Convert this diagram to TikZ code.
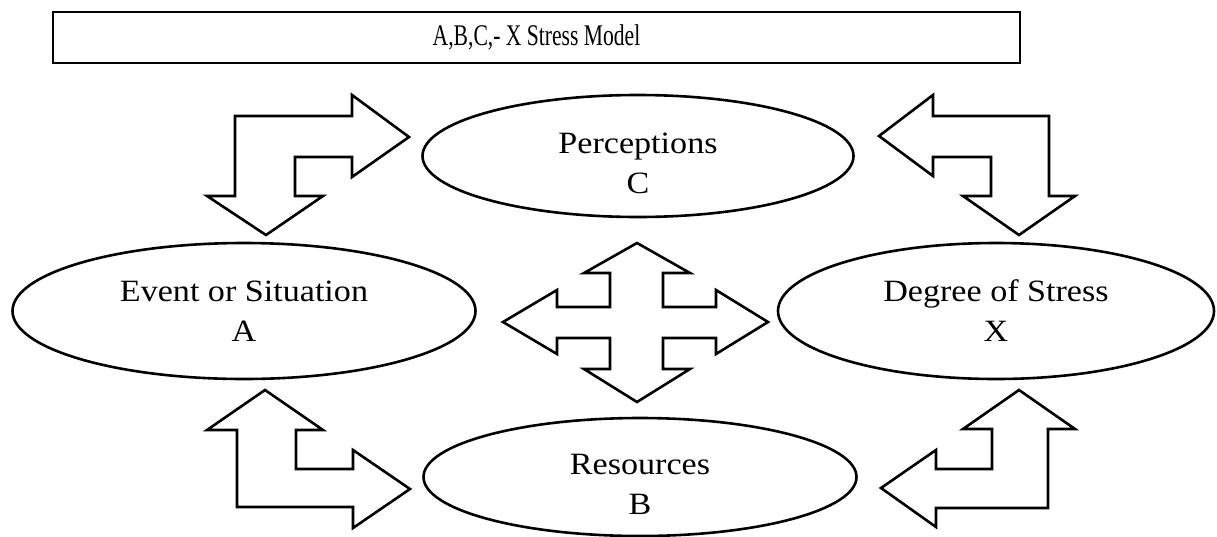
\documentclass[tikz,border=0pt]{standalone}
\usepackage{fontspec}
\setmainfont[FakeStretch=1.1]{Liberation Serif}
\newfontfamily\titlefont[FakeStretch=0.72]{Liberation Serif}
\usepackage{tikz}
\usetikzlibrary{shapes.geometric}
\pgfdeclarelayer{edgelayer}
\pgfdeclarelayer{nodelayer}
\pgfsetlayers{edgelayer,nodelayer,main}
\tikzstyle{none} = []
\tikzstyle{Title Box}=[draw=black, shape=rectangle, line width=2.6pt, inner sep=0pt, font=\titlefont\fontsize{30}{36}\selectfont]
\tikzstyle{Plain Ellipse}=[draw=black, shape=ellipse, line width=2.6pt, inner sep=0pt, align=center, font=\fontsize{31}{40}\selectfont]
\tikzstyle{Block Arrow}=[-, draw=black, fill=white, line width=2.6pt, line join=miter]
\begin{document}
\begin{tikzpicture}[x=1pt, y=-1pt]
	\useasboundingbox (0,0) rectangle (1217,536);
	\begin{pgfonlayer}{nodelayer}
		\node [style=Title Box, minimum width=967pt, minimum height=51pt] (0) at (536.5, 37.5) {A,B,C,- X Stress Model};
		\node [style=Plain Ellipse, minimum width=431pt, minimum height=122pt] (1) at (638, 156) {\rule{0pt}{35pt}Perceptions\\C};
		\node [style=Plain Ellipse, minimum width=463pt, minimum height=136pt] (2) at (244, 311) {Event or Situation\\A};
		\node [style=Plain Ellipse, minimum width=436pt, minimum height=136pt] (3) at (996, 311) {Degree of Stress\\X};
		\node [style=Plain Ellipse, minimum width=433pt, minimum height=118pt] (4) at (640, 477) {\rule{0pt}{35pt}Resources\\B};
	\end{pgfonlayer}
	\begin{pgfonlayer}{edgelayer}
		% A <-> C
		\draw [style=Block Arrow] (235,116) -- (352,116) -- (352,95) -- (409,137) -- (352,177) -- (352,157) -- (295,157) -- (295,196) -- (323,196) -- (266,235) -- (207,196) -- (235,196) -- cycle;
		% C <-> X
		\draw [style=Block Arrow] (879,136) -- (933,95) -- (933,116) -- (1049,116) -- (1049,196) -- (1075,196) -- (1019,235) -- (963,196) -- (991,196) -- (991,157) -- (933,157) -- (933,176) -- cycle;
		% A <-> B
		\draw [style=Block Arrow] (265,390) -- (323,430) -- (296,430) -- (296,469) -- (353,469) -- (353,450) -- (410,489) -- (353,528) -- (353,507) -- (237,507) -- (237,430) -- (207,430) -- cycle;
		% B <-> X
		\draw [style=Block Arrow] (1019,390) -- (1075,429) -- (1048,429) -- (1048,508) -- (936,508) -- (936,527) -- (881,488) -- (936,450) -- (936,469) -- (992,469) -- (992,429) -- (963,429) -- cycle;
		% centre
		\draw [style=Block Arrow] (637,243) -- (690,273) -- (663,273) -- (663,307) -- (716,307) -- (716,290) -- (768,322) -- (716,354) -- (716,338) -- (663,338) -- (663,369) -- (690,369) -- (637,402) -- (584,369) -- (610,369) -- (610,338) -- (557,338) -- (557,354) -- (503,322) -- (557,290) -- (557,307) -- (610,307) -- (610,273) -- (584,273) -- cycle;
	\end{pgfonlayer}
\end{tikzpicture}
\end{document}
